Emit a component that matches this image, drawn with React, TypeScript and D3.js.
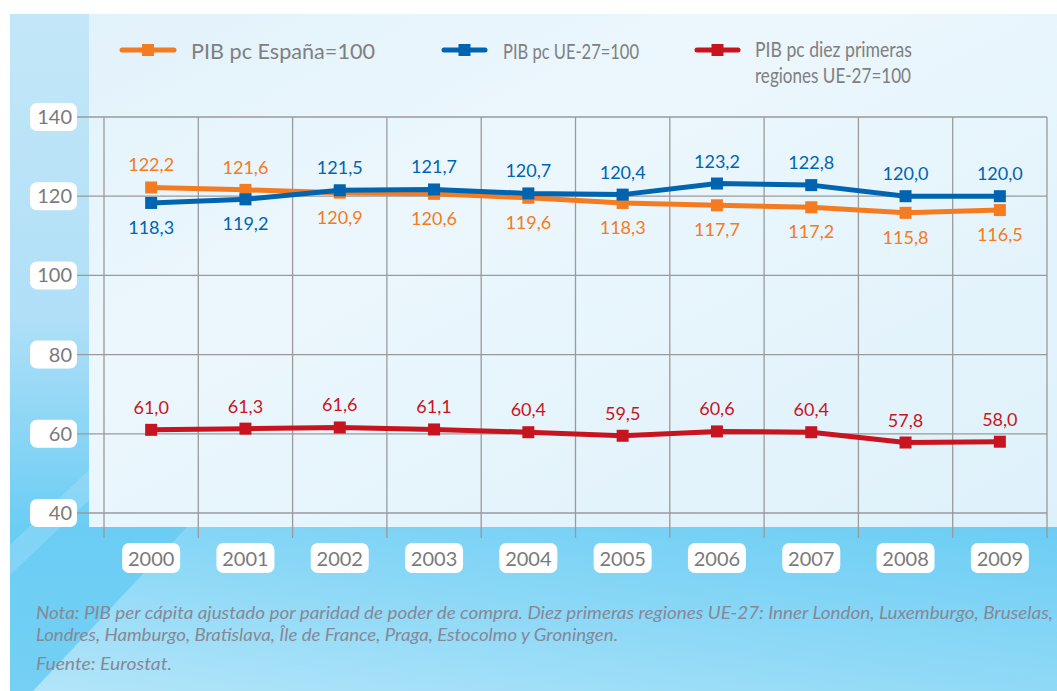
import * as d3 from 'd3'

const years = ['2000', '2001', '2002', '2003', '2004', '2005', '2006', '2007', '2008', '2009']
const espana = [122.2, 121.6, 120.9, 120.6, 119.6, 118.3, 117.7, 117.2, 115.8, 116.5]
const ue27 = [118.3, 119.2, 121.5, 121.7, 120.7, 120.4, 123.2, 122.8, 120.0, 120.0]
const diezRegiones = [61.0, 61.3, 61.6, 61.1, 60.4, 59.5, 60.6, 60.4, 57.8, 58.0]
const yTicks = [40, 60, 80, 100, 120, 140]

const W = 1057
const H = 691
const FONT = 'Lato, "Open Sans", sans-serif'
const GRID = '#9a9a9a'
const TXT = '#7a7a7a'

const fmt = (v: number) => v.toFixed(1).replace('.', ',')

export default function App() {
  const x = d3.scaleBand<string>().domain(years).range([104, 1047])
  const y = d3.scaleLinear().domain([40, 140]).range([513, 117])
  const cx = (yr: string) => (x(yr) ?? 0) + x.bandwidth() / 2

  const line = d3
    .line<number>()
    .x((_, i) => cx(years[i]))
    .y((d) => y(d))

  // orden de dibujo: rojo, naranja, azul (el azul queda encima)
  const series = [
    { key: 'diez', values: diezRegiones, color: '#c8141e', above: diezRegiones.map(() => true) },
    { key: 'esp', values: espana, color: '#f47b20', above: espana.map((v, i) => v > ue27[i]) },
    { key: 'ue', values: ue27, color: '#0064b1', above: ue27.map((v, i) => v >= espana[i]) },
  ]

  const bounds = x.domain().map((d) => x(d) ?? 0).concat([x.range()[1]])

  return (
    <svg width={W} height={H} style={{ position: 'absolute', left: 0, top: 0 }} fontFamily={FONT}>
      <defs>
        <linearGradient id="bg" x1="0" y1="0" x2="0" y2="1">
          <stop offset="0" stopColor="#c3e7f8" />
          <stop offset="0.45" stopColor="#b0dff7" />
          <stop offset="0.76" stopColor="#6bcdf4" />
          <stop offset="1" stopColor="#74d0f4" />
        </linearGradient>
        <linearGradient id="shine" x1="0" y1="1" x2="1" y2="0">
          <stop offset="0" stopColor="#ffffff" stopOpacity="0.45" />
          <stop offset="0.5" stopColor="#ffffff" stopOpacity="0.2" />
          <stop offset="1" stopColor="#ffffff" stopOpacity="0" />
        </linearGradient>
        <linearGradient id="panel" x1="0" y1="0" x2="1" y2="1">
          <stop offset="0" stopColor="#e2f2fb" />
          <stop offset="0.35" stopColor="#ecf7fd" />
          <stop offset="1" stopColor="#def1fa" />
        </linearGradient>
      </defs>

      <rect width={W} height={H} fill="#fff" />
      <rect x={10} y={14} width={W - 10} height={H - 14} fill="url(#bg)" />
      <polygon points="33,691 187,527 1057,527 1057,691" fill="url(#shine)" />
      <polygon points="10,545 89,470 89,500 10,575" fill="#ffffff" opacity={0.15} />
      <rect x={89} y={14} width={W - 89} height={513} fill="url(#panel)" />

      {/* leyenda */}
      {[
        { color: '#f47b20', x0: 122, x1: 174, tx: 191, lines: [['PIB pc España=100', 184]] },
        { color: '#0064b1', x0: 444, x1: 485, tx: 503, lines: [['PIB pc UE-27=100', 136]] },
        {
          color: '#c8141e',
          x0: 697,
          x1: 738,
          tx: 755,
          lines: [
            ['PIB pc diez primeras', 157],
            ['regiones UE-27=100', 156],
          ],
        },
      ].map((l) => (
        <g key={l.tx}>
          <line x1={l.x0} x2={l.x1} y1={50} y2={50} stroke={l.color} strokeWidth={5} strokeLinecap="round" />
          <rect x={(l.x0 + l.x1) / 2 - 6} y={44} width={12} height={12} fill={l.color} />
          {l.lines.map(([t, w], i) => (
            <text
              key={t as string}
              x={l.tx}
              y={(l.lines.length > 1 ? 57 : 59) + i * 26}
              fontSize={21}
              fill="#808080"
              textLength={w as number}
              lengthAdjust="spacingAndGlyphs"
            >
              {t}
            </text>
          ))}
        </g>
      ))}

      {/* rejilla */}
      {yTicks.map((t) => (
        <line key={t} x1={77} x2={1047} y1={y(t)} y2={y(t)} stroke={GRID} strokeWidth={1.3} />
      ))}
      {bounds.map((b, i) => (
        <line key={i} x1={b} x2={b} y1={117} y2={538} stroke={GRID} strokeWidth={1.3} />
      ))}

      {/* eje Y */}
      {yTicks.map((t) => (
        <g key={t}>
          <rect x={30} y={y(t) - 14} width={47} height={28} rx={7} fill="#fff" />
          <text x={72} y={y(t) + 7} textAnchor="end" fontSize={20} fill={TXT}>
            {t}
          </text>
        </g>
      ))}

      {/* eje X */}
      {years.map((yr) => (
        <g key={yr}>
          <rect x={cx(yr) - 29} y={543} width={58} height={30} rx={7} fill="#fff" />
          <text x={cx(yr)} y={566} textAnchor="middle" fontSize={20} fill={TXT}>
            {yr}
          </text>
        </g>
      ))}

      {/* series */}
      {series.map((s) => (
        <g key={s.key}>
          <path d={line(s.values) ?? ''} fill="none" stroke={s.color} strokeWidth={5} strokeLinejoin="round" />
          {s.values.map((v, i) => (
            <rect key={i} x={cx(years[i]) - 6} y={y(v) - 6} width={12} height={12} fill={s.color} />
          ))}
        </g>
      ))}
      {series.map((s) => (
        <g key={s.key + 'lbl'}>
          {s.values.map((v, i) => (
            <text
              key={i}
              x={cx(years[i])}
              y={s.above[i] ? y(v) - 16 : y(v) + 31}
              textAnchor="middle"
              fontSize={18}
              fill={s.color}
            >
              {fmt(v)}
            </text>
          ))}
        </g>
      ))}

      {/* nota */}
      <g fontStyle="italic" fontSize={17} fill="#868896">
        <text x={36} y={619} textLength={1017} lengthAdjust="spacingAndGlyphs">
          Nota: PIB per cápita ajustado por paridad de poder de compra.  Diez primeras regiones UE-27: Inner London, Luxemburgo, Bruselas,
        </text>
        <text x={36} y={641} textLength={582} lengthAdjust="spacingAndGlyphs">
          Londres, Hamburgo, Bratislava, Île de France, Praga, Estocolmo y Groningen.
        </text>
        <text x={36} y={670} textLength={136} lengthAdjust="spacingAndGlyphs">
          Fuente: Eurostat.
        </text>
      </g>
    </svg>
  )
}
